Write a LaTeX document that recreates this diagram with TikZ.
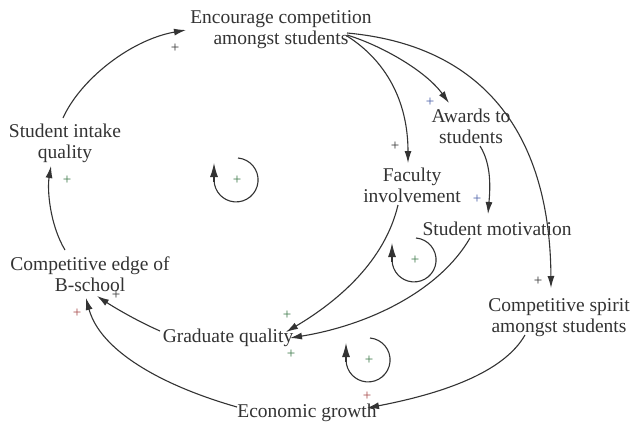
\documentclass[tikz,border=0pt]{standalone}
\usepackage{fontspec}
\setmainfont{Liberation Serif}
\usetikzlibrary{arrows.meta,calc}
\definecolor{ink}{HTML}{333333}
\definecolor{pgreen}{HTML}{3E7A4A}
\definecolor{pblue}{HTML}{4A5FA8}
\definecolor{pred}{HTML}{A84A4A}
\begin{document}
\begin{tikzpicture}[x=1pt,y=-1pt,
  lbl/.style={inner sep=0pt,align=center,text=ink,font=\fontsize{19.5}{21}\selectfont},
  pl/.style={inner sep=0pt,font=\fontsize{15}{15}\selectfont,text=ink},
  link/.style={draw=ink,line width=1.1pt,-{Latex[length=12pt,width=7pt]}},
  loopline/.style={draw=ink,line width=1.1pt},
  looptip/.style={draw=ink,line width=1.1pt,-{Latex[length=14pt,width=8pt]}}]
\useasboundingbox (0,0) rectangle (636,426);
\fill[white] (0,0) rectangle (636,426);

\node[lbl] (enc) at (281,30) {Encourage competition\\amongst students};
\node[lbl] (aw) at (471,126) {Awards to\\students};
\node[lbl] (fac) at (412,185) {Faculty\\involvement};
\node[lbl] (mot) at (497,229) {Student motivation};
\node[lbl] (sin) at (65,143) {Student intake\\quality};
\node[lbl] (edge) at (90,274) {Competitive edge of\\B-school};
\node[lbl] (grad) at (228,338) {Graduate quality};
\node[lbl] (spi) at (559,318) {Competitive spirit\\amongst students};
\node[lbl] (eco) at (307,413) {Economic growth};

% connectors
\draw[link] ($(sin)+(-2,-25)$) .. controls (80,80) and (130,40) .. ($(enc)+(-95,0)$);
\draw[link] ($(edge)+(-25,-24)$) .. controls (50,225) and (47,190) .. ($(sin)+(-14,23)$);
\draw[link] ($(grad)+(-68,-7)$) .. controls (135,320) and (112,306) .. ($(edge)+(7,22)$);
\draw[link] ($(eco)+(-70,-6)$) .. controls (160,385) and (100,350) .. ($(edge)+(-4,24)$);
\draw[link] ($(enc)+(66,6)$) .. controls (385,60) and (408,100) .. ($(fac)+(-4,-22)$);
\draw[link] ($(enc)+(66,5)$) .. controls (380,45) and (425,70) .. ($(aw)+(-22,-23)$);
\draw[link] ($(enc)+(66,3)$) .. controls (480,45) and (550,130) .. ($(spi)+(-8,-30)$);
\draw[link] ($(aw)+(9,20)$) .. controls (492,165) and (490,190) .. ($(mot)+(-9,-15)$);
\draw[link] ($(fac)+(-14,20)$) .. controls (385,260) and (340,300) .. ($(grad)+(58,-6)$);
\draw[link] ($(mot)+(-27,9)$) .. controls (440,290) and (370,325) .. ($(grad)+(62,0)$);
\draw[link] ($(spi)+(-34,17)$) .. controls (505,370) and (450,392) .. ($(eco)+(60,-5)$);

% loop markers
\draw[loopline] (238,158) arc[start angle=-85,end angle=180,radius=22];
\draw[looptip] (214,182) -- (214,163);
\draw[loopline] (416,238) arc[start angle=-85,end angle=180,radius=22];
\draw[looptip] (392,262) -- (392,243);
\draw[loopline] (370,338) arc[start angle=-85,end angle=180,radius=22];
\draw[looptip] (346,362) -- (346,343);

% polarity signs
\node[pl] (p1) at (175,48) {+};
\node[pl,text=pgreen] (p2) at (67,180) {+};
\node[pl] (p3) at (116,295) {+};
\node[pl,text=pred] (p4) at (77,313) {+};
\node[pl] (p5) at (395,146) {+};
\node[pl,text=pblue] (p6) at (430,102) {+};
\node[pl] (p7) at (538,281) {+};
\node[pl,text=pblue] (p8) at (477,199) {+};
\node[pl,text=pgreen] (p9) at (287,315) {+};
\node[pl,text=pgreen] (p10) at (291,354) {+};
\node[pl,text=pred] (p11) at (367,396) {+};
\node[pl,text=pgreen] (l1) at (237,180) {+};
\node[pl,text=pgreen] (l2) at (415,260) {+};
\node[pl,text=pgreen] (l3) at (369,360) {+};
\end{tikzpicture}
\end{document}
